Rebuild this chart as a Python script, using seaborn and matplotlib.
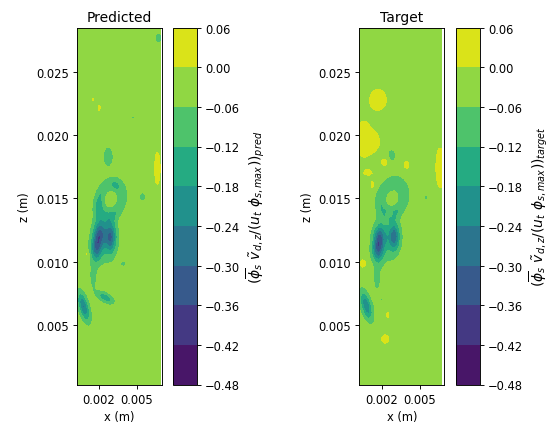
import numpy as np
import matplotlib
matplotlib.use("Agg")
import matplotlib.pyplot as plt
import seaborn as sns

# ---- data (blob descriptions, metres) ----
LEVELS = [-0.48, -0.42, -0.36, -0.30, -0.24, -0.18, -0.12, -0.06, 0.00, 0.06]
BASE = -0.03
X_RANGE = (0.00025, 0.00695)
Z_RANGE = (0.00025, 0.02855)
X_TICKS = [0.002, 0.005]
X_TICKLABELS = ["0.002", "0.005"]
Z_TICKS = [0.005, 0.010, 0.015, 0.020, 0.025]

# predicted: centre x, centre z, sigma x, sigma z, angle (deg), amplitude
PRED_X = [0.00273, 0.00240, 0.00205, 0.00180, 0.00292, 0.00155, 0.00080, 0.00250, 0.00392, 0.00543, 0.00661, 0.00107, 0.00154, 0.00202, 0.00471, 0.00669, 0.00200, 0.00330]
PRED_Z = [0.01830, 0.01172, 0.01225, 0.01105, 0.01196, 0.00880, 0.00642, 0.00714, 0.00983, 0.01513, 0.01739, 0.01060, 0.02282, 0.02218, 0.02139, 0.02773, 0.01430, 0.01600]
PRED_SX = [0.00029, 0.00065, 0.00032, 0.00032, 0.00032, 0.00024, 0.00028, 0.00050, 0.00012, 0.00018, 0.00018, 0.00010, 0.00008, 0.00010, 0.00025, 0.00020, 0.00025, 0.00020]
PRED_SZ = [0.00058, 0.00130, 0.00070, 0.00070, 0.00085, 0.00080, 0.00080, 0.00026, 0.00012, 0.00022, 0.00110, 0.00020, 0.00010, 0.00020, 0.00007, 0.00030, 0.00060, 0.00025]
PRED_ANG = [0, 0, 0, 0, 0, 0, 15, -30, 0, 0, 0, 0, 0, 0, 0, 0, -10, 0]
PRED_AMP = [-0.075, -0.06, -0.23, -0.23, -0.25, -0.05, -0.22, -0.14, -0.12, -0.08, 0.06, 0.06, 0.05, 0.05, -0.06, -0.07, -0.06, -0.05]
# ring: centre x, centre z, radius x, radius z, rel. width, angle, amplitude
PRED_RING = [0.00290, 0.01489, 0.00090, 0.00130, 0.33, -15, -0.08]

TARG_X = [0.00279, 0.00554, 0.00240, 0.00185, 0.00171, 0.00300, 0.00165, 0.00080, 0.00173, 0.00060, 0.00140, 0.00230, 0.00094, 0.00396, 0.00664, 0.00133, 0.00245, 0.00229, 0.00054, 0.00205, 0.00387, 0.00262]
TARG_Z = [0.01838, 0.01505, 0.01172, 0.01200, 0.01090, 0.01197, 0.00856, 0.00650, 0.02282, 0.01970, 0.01950, 0.01789, 0.01705, 0.01767, 0.01743, 0.01610, 0.00577, 0.00387, 0.00983, 0.00690, 0.00943, 0.01371]
TARG_SX = [0.00025, 0.00012, 0.00065, 0.00032, 0.00032, 0.00030, 0.00024, 0.00028, 0.00055, 0.00050, 0.00040, 0.00030, 0.00030, 0.00020, 0.00030, 0.00015, 0.00012, 0.00025, 0.00020, 0.00010, 0.00008, 0.00012]
TARG_SZ = [0.00040, 0.00020, 0.00130, 0.00065, 0.00065, 0.00075, 0.00080, 0.00080, 0.00070, 0.00120, 0.00060, 0.00030, 0.00020, 0.00030, 0.00140, 0.00030, 0.00025, 0.00030, 0.00025, 0.00010, 0.00015, 0.00015]
TARG_ANG = [0, 0, 0, 0, 0, 0, 0, 15, 0, 0, 0, 0, 0, 0, 0, 0, 0, 0, 0, 0, 0, 0]
TARG_AMP = [-0.07, -0.07, -0.06, -0.22, -0.24, -0.25, -0.05, -0.22, 0.06, 0.06, 0.05, 0.05, 0.05, 0.05, 0.06, 0.05, 0.05, 0.06, 0.06, -0.08, -0.08, 0.08]
TARG_RING = [0.00284, 0.01500, 0.00090, 0.00125, 0.33, -15, -0.09]


def build_field(X, Z, xs, zs, sxs, szs, angs, amps, ring):
    F = np.full_like(X, BASE)
    for x0, z0, sx, sz, a, amp in zip(xs, zs, sxs, szs, angs, amps):
        t = np.deg2rad(a)
        dx, dz = X - x0, Z - z0
        u = dx * np.cos(t) + dz * np.sin(t)
        v = -dx * np.sin(t) + dz * np.cos(t)
        F += amp * np.exp(-(u ** 2 / (2 * sx ** 2) + v ** 2 / (2 * sz ** 2)))
    x0, z0, rx, rz, w, a, amp = ring
    t = np.deg2rad(a)
    dx, dz = X - x0, Z - z0
    u = dx * np.cos(t) + dz * np.sin(t)
    v = -dx * np.sin(t) + dz * np.cos(t)
    r = np.sqrt((u / rx) ** 2 + (v / rz) ** 2)
    F += amp * np.exp(-((r - 1) ** 2) / (2 * w ** 2))
    return F


xp = np.arange(X_RANGE[0], X_RANGE[1] + 1e-9, 0.000125)
zp = np.arange(Z_RANGE[0], Z_RANGE[1] + 1e-9, 0.000125)
XP, ZP = np.meshgrid(xp, zp)
xt = np.arange(X_RANGE[0], X_RANGE[1] + 1e-9, 0.00025)
zt = np.arange(Z_RANGE[0], Z_RANGE[1] + 1e-9, 0.00025)
XT, ZT = np.meshgrid(xt, zt)

F_pred = build_field(XP, ZP, PRED_X, PRED_Z, PRED_SX, PRED_SZ, PRED_ANG, PRED_AMP, PRED_RING)
F_targ = build_field(XT, ZT, TARG_X, TARG_Z, TARG_SX, TARG_SZ, TARG_ANG, TARG_AMP, TARG_RING)

cmap = sns.color_palette("viridis", as_cmap=True)

DPI = 83
fig = plt.figure(figsize=(555 / DPI, 424 / DPI), dpi=DPI)
W, H = 555, 424
bot = (H - 385.5) / H
hgt = 357 / H

panels = [
    ("Predicted", XP, ZP, F_pred, 76.7, 172.7, r"$(\overline{\phi}_s\ \tilde{v}_{d,z}/(u_t\ \phi_{s,max}))_{pred}$"),
    ("Target", XT, ZT, F_targ, 359.3, 455.7, r"$(\overline{\phi}_s\ \tilde{v}_{d,z}/(u_t\ \phi_{s,max}))_{target}$"),
]
for title, X, Z, F, axl, cbl, clabel in panels:
    ax = fig.add_axes([axl / W, bot, 85 / W, hgt])
    cax = fig.add_axes([cbl / W, bot, 24 / W, hgt])
    cs = ax.contourf(X, Z, F, levels=LEVELS, cmap=cmap, extend="neither")
    ax.set_xlim(*X_RANGE)
    ax.set_ylim(*Z_RANGE)
    ax.set_xticks(X_TICKS)
    ax.set_xticklabels(X_TICKLABELS)
    ax.set_yticks(Z_TICKS)
    ax.set_yticklabels([f"{v:.3f}" for v in Z_TICKS])
    ax.set_title(title)
    ax.set_xlabel("x (m)")
    ax.set_ylabel("z (m)")
    cb = fig.colorbar(cs, cax=cax, ticks=LEVELS)
    cb.ax.set_yticklabels([f"{v:.2f}".replace("-", "\u2212") for v in LEVELS])
    cb.set_label(clabel, fontsize=12)

fig.savefig("out.png", dpi=DPI)
